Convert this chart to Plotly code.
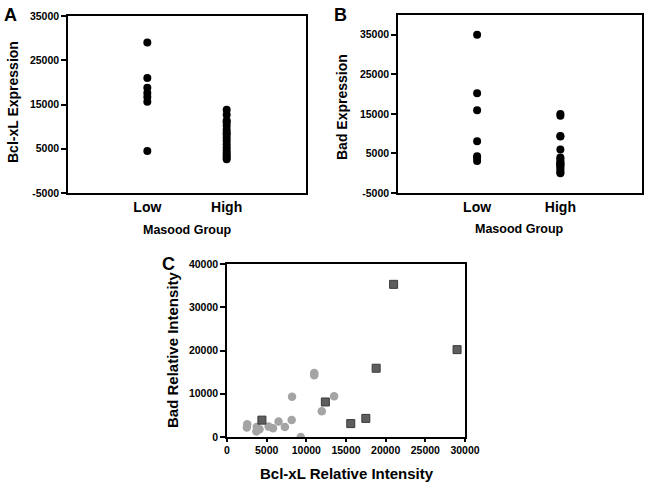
import plotly.graph_objects as go

# ---- data ----
groups = ["Low", "High"]

bclxl_low = [29000, 21000, 18800, 17600, 16700, 15600, 4500]
bclxl_high = [13800, 12700, 11400, 11000, 10200, 9300, 8600, 8200, 7500,
              6800, 6000, 5300, 4600, 4000, 3500, 3000, 2600]

bad_low = [35000, 20200, 15900, 8100, 4300, 3900, 3100]
bad_high = [15000, 14500, 9300, 9400, 6000, 4000, 3600, 3000, 2500, 2300,
            2100, 1800, 1400, 900, 300, 0]

# Panel C: Bcl-xL vs Bad relative intensity
sq_x = [4400, 12400, 15600, 17500, 18800, 21000, 29000]
sq_y = [3900, 8100, 3100, 4300, 15900, 35300, 20200]
ci_x = [11000, 11000, 8200, 13500, 11950, 8150, 6500, 7300, 5800, 5250,
        2550, 2500, 3750, 4100, 3700, 9300]
ci_y = [14800, 14300, 9300, 9400, 5950, 3950, 3600, 2300, 2000, 2400,
        2950, 2200, 2300, 1800, 1300, 0]

yticks_ab = [-5000, 5000, 15000, 25000, 35000]
yticks_ab_text = ["-5000", "5000", "15000", "25000", "35000"]
xticks_c = [0, 5000, 10000, 15000, 20000, 25000, 30000]
xticks_c_text = ["0", "5000", "10000", "15000", "20000", "25000", "30000"]
yticks_c = [0, 10000, 20000, 30000, 40000]
yticks_c_text = ["0", "10000", "20000", "30000", "40000"]

FONT = "Arial, Liberation Sans, sans-serif"
W, H = 649, 487

fig = go.Figure()

dot = dict(color="black", size=8)
fig.add_trace(go.Scatter(x=["Low"] * len(bclxl_low), y=bclxl_low, mode="markers",
                         marker=dot, xaxis="x", yaxis="y", showlegend=False))
fig.add_trace(go.Scatter(x=["High"] * len(bclxl_high), y=bclxl_high, mode="markers",
                         marker=dot, xaxis="x", yaxis="y", showlegend=False))
fig.add_trace(go.Scatter(x=["Low"] * len(bad_low), y=bad_low, mode="markers",
                         marker=dot, xaxis="x2", yaxis="y2", showlegend=False))
fig.add_trace(go.Scatter(x=["High"] * len(bad_high), y=bad_high, mode="markers",
                         marker=dot, xaxis="x2", yaxis="y2", showlegend=False))
fig.add_trace(go.Scatter(x=ci_x, y=ci_y, mode="markers",
                         marker=dict(color="#a4a4a4", size=8.5, symbol="circle"),
                         xaxis="x3", yaxis="y3", showlegend=False))
fig.add_trace(go.Scatter(x=sq_x, y=sq_y, mode="markers",
                         marker=dict(color="#5e5e5e", size=8, symbol="square",
                                     line=dict(color="#3a3a3a", width=1)),
                         xaxis="x3", yaxis="y3", showlegend=False))


def fx(px):
    return px / W


def fy(py):
    return 1 - py / H


def dom_x(a, b):
    return [fx(a), fx(b)]


def dom_y(top, bottom):
    return [fy(bottom), fy(top)]


tickfont = dict(family=FONT, size=10.5, color="black", weight="bold")
catfont = dict(family=FONT, size=14, color="black", weight="bold")
axbase = dict(showline=True, linecolor="black", linewidth=1.5, mirror=True,
              showgrid=False, zeroline=False, automargin=False)

fig.update_layout(
    width=W, height=H,
    margin=dict(l=0, r=0, t=0, b=0),
    paper_bgcolor="white", plot_bgcolor="white",
    font=dict(family=FONT, color="black"),
    xaxis=dict(axbase, domain=dom_x(68, 306), anchor="y", type="category",
               categoryorder="array", categoryarray=groups, range=[-1, 2],
               ticks="", tickfont=catfont),
    yaxis=dict(axbase, domain=dom_y(16, 193), anchor="x", range=[-5000, 35000],
               tickvals=yticks_ab, ticktext=yticks_ab_text, ticks="outside",
               ticklen=5, tickwidth=1.5, tickcolor="black", tickfont=tickfont),
    xaxis2=dict(axbase, domain=dom_x(398, 642), anchor="y2", type="category",
                categoryorder="array", categoryarray=groups, range=[-0.95, 1.98],
                ticks="", tickfont=catfont),
    yaxis2=dict(axbase, domain=dom_y(15, 193), anchor="x2", range=[-5000, 40000],
                tickvals=yticks_ab, ticktext=yticks_ab_text, ticks="outside",
                ticklen=5, tickwidth=1.5, tickcolor="black", tickfont=tickfont),
    xaxis3=dict(axbase, domain=dom_x(227, 465), anchor="y3", range=[0, 30000],
                tickvals=xticks_c, ticktext=xticks_c_text, ticks="outside",
                ticklen=3, tickwidth=1.5, tickcolor="black", tickfont=tickfont),
    yaxis3=dict(axbase, domain=dom_y(264, 437), anchor="x3", range=[0, 40000],
                tickvals=yticks_c, ticktext=yticks_c_text, ticks="outside",
                ticklen=5, tickwidth=1.5, tickcolor="black", tickfont=tickfont),
)

ytitle_font = dict(family=FONT, size=14, color="black", weight="bold")
xtitle_font = dict(family=FONT, size=12.5, color="black", weight="bold")
c_font = dict(family=FONT, size=15, color="black", weight="bold")
letter_font = dict(family=FONT, size=18, color="black", weight="bold")


def ann(text, x, y, font, angle=0):
    fig.add_annotation(text=text, x=fx(x), y=fy(y), xref="paper", yref="paper",
                       showarrow=False, font=font, textangle=angle,
                       xanchor="center", yanchor="middle")


ann("A", 10, 15, letter_font)
ann("B", 340, 15, letter_font)
ann("C", 168, 264, letter_font)
ann("Bcl-xL Expression", 13, 102, ytitle_font, -90)
ann("Masood Group", 187, 230, xtitle_font)
ann("Bad Expression", 342, 107, ytitle_font, -90)
ann("Masood Group", 519, 229, xtitle_font)
ann("Bad Relative Intensity", 172, 350, c_font, -90)
ann("Bcl-xL Relative Intensity", 347, 473, c_font)

fig.write_html("out.html",
               config={"displayModeBar": False},
               post_script="document.body.style.margin='0';"
                           "document.body.style.padding='0';")
